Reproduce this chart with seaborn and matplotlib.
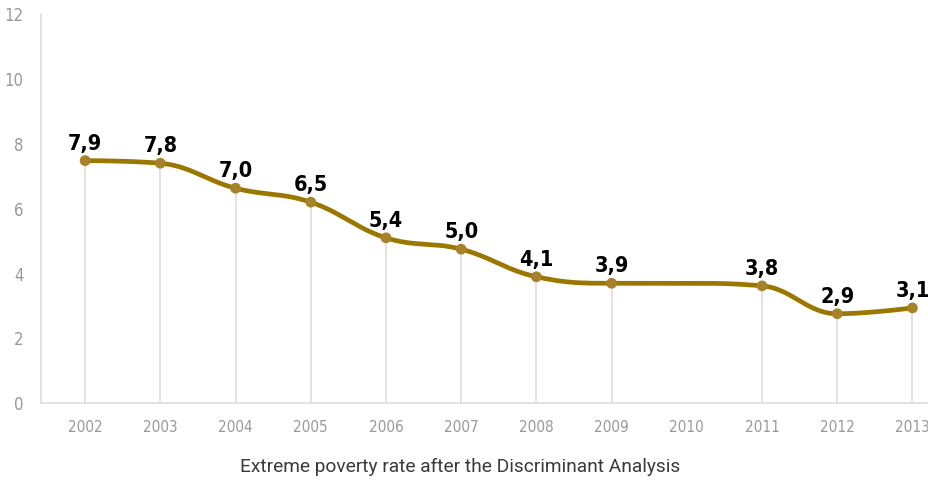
import numpy as np
import pandas as pd
import matplotlib
matplotlib.use("Agg")
import matplotlib.pyplot as plt
import seaborn as sns

# data (plotted heights and printed labels differ a bit in the original)
years = ["2002", "2003", "2004", "2005", "2006", "2007", "2008", "2009", "2010", "2011", "2012", "2013"]
rate = [7.48, 7.40, 6.63, 6.20, 5.10, 4.75, 3.90, 3.70, 3.70, 3.62, 2.76, 2.94]
labels = ["7,9", "7,8", "7,0", "6,5", "5,4", "5,0", "4,1", "3,9", None, "3,8", "2,9", "3,1"]

line_col = "#9a7800"
dot_col = "#a8822a"
grid_col = "#dddddd"
tick_col = "#999999"

sns.set_theme(style="white")
plt.rcParams["font.family"] = ["DejaVu Sans"]
plt.rcParams["font.stretch"] = "condensed"


# spline like the original chart: bezier with smoothed control points
def spline(x, y, smooth=1.5, n=30):
    x = np.asarray(x, float)
    y = np.asarray(y, float)
    m = len(x)
    lc = np.column_stack([x, y]).copy()
    rc = np.column_stack([x, y]).copy()
    d = smooth + 1
    for i in range(1, m - 1):
        lx = (smooth * x[i] + x[i - 1]) / d
        ly = (smooth * y[i] + y[i - 1]) / d
        rx = (smooth * x[i] + x[i + 1]) / d
        ry = (smooth * y[i] + y[i + 1]) / d
        corr = (ry - ly) * (rx - x[i]) / (rx - lx) + y[i] - ry
        ly += corr
        ry += corr
        if ly > max(y[i - 1], y[i]):
            ly = max(y[i - 1], y[i]); ry = 2 * y[i] - ly
        elif ly < min(y[i - 1], y[i]):
            ly = min(y[i - 1], y[i]); ry = 2 * y[i] - ly
        if ry > max(y[i + 1], y[i]):
            ry = max(y[i + 1], y[i]); ly = 2 * y[i] - ry
        elif ry < min(y[i + 1], y[i]):
            ry = min(y[i + 1], y[i]); ly = 2 * y[i] - ry
        lc[i] = [lx, ly]
        rc[i] = [rx, ry]
    t = np.linspace(0, 1, n)[:, None]
    pts = []
    for i in range(m - 1):
        p0 = np.array([x[i], y[i]]); p3 = np.array([x[i + 1], y[i + 1]])
        p1 = rc[i]; p2 = lc[i + 1]
        seg = (1 - t) ** 3 * p0 + 3 * (1 - t) ** 2 * t * p1 + 3 * (1 - t) * t ** 2 * p2 + t ** 3 * p3
        pts.append(seg if i == 0 else seg[1:])
    pts = np.vstack(pts)
    return pts[:, 0], pts[:, 1]


xi = np.arange(len(years))
df = pd.DataFrame({"x": xi, "rate": rate, "label": labels})
sx, sy = spline(xi, rate)
curve = pd.DataFrame({"x": sx, "y": sy})

fig = plt.figure(figsize=(9.29, 4.83), dpi=100)
ax = fig.add_axes([41.5 / 929, 1 - 403.3 / 483, 1 - 41.5 / 929, (403.3 - 14) / 483])

# drop lines from each marked point
shown = df[df["label"].notna()]
ax.vlines(shown["x"], 0, shown["rate"], color=grid_col, lw=1.2, zorder=1)

sns.lineplot(data=curve, x="x", y="y", color=line_col, lw=3.4, sort=False, ax=ax, zorder=3)
sns.scatterplot(data=shown, x="x", y="rate", color=dot_col, s=60, edgecolor="none", ax=ax, zorder=4)

for _, r in shown.iterrows():
    ax.annotate(r["label"], (r["x"], r["rate"]), xytext=(0, 5), textcoords="offset points",
                ha="center", va="bottom", fontsize=15.5, fontweight="bold", color="black")

ax.set_xlim(-0.58, 11.22)
ax.set_ylim(0, 12)
ax.set_xticks(xi)
ax.set_xticklabels(years)
ax.set_yticks(range(0, 13, 2))
ax.set_xlabel("")
ax.set_ylabel("")
ax.grid(False)

for side in ["top", "right"]:
    ax.spines[side].set_visible(False)
for side in ["left", "bottom"]:
    ax.spines[side].set_color(grid_col)
    ax.spines[side].set_linewidth(1.2)

ax.tick_params(axis="both", colors=grid_col, labelcolor=tick_col, labelsize=11,
               length=6, width=1.2, direction="out")
ax.tick_params(axis="x", pad=6)
ax.tick_params(axis="y", labelsize=12, pad=7)

fig.text(460 / 929, 1 - 467 / 483, "Extreme poverty rate after the Discriminant Analysis",
         ha="center", va="center", fontsize=13.8, color="#3a3a3a",
         family=["Roboto", "DejaVu Sans"], fontweight="normal", fontstretch="normal")

fig.savefig("out.png", dpi=100)
